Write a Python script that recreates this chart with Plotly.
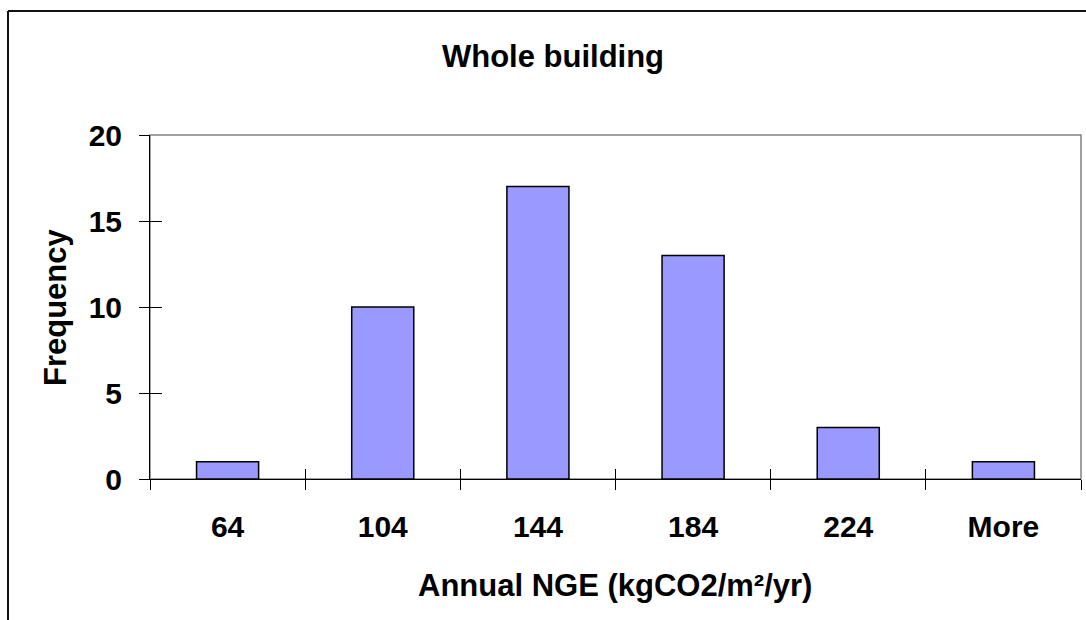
import plotly.graph_objects as go

# Histogram bins and counts
bins = ["64", "104", "144", "184", "224", "More"]
frequency = [1, 10, 17, 13, 3, 1]

title_text = "Whole building"
x_title = "Annual NGE (kgCO2/m²/yr)"
y_title = "Frequency"

FONT = "Liberation Sans, Arial, sans-serif"
TICK_SIZE = 30
TITLE_SIZE = 31
W, H = 1086, 620
L, R, T, B = 150, 5, 135, 141
plot_w = W - L - R
plot_h = H - T - B


def px_to_paper_x(px):
    return (px - L) / plot_w


def px_to_paper_y(py):
    return (H - B - py) / plot_h


fig = go.Figure()
fig.add_trace(go.Bar(
    x=bins,
    y=frequency,
    width=0.4,
    marker=dict(color="#9999FF", line=dict(color="#000000", width=1.5)),
    showlegend=False,
))

fig.update_layout(
    width=W,
    height=H,
    margin=dict(l=L, r=R, t=T, b=B),
    paper_bgcolor="white",
    plot_bgcolor="white",
    font=dict(family=FONT, size=TICK_SIZE, color="black", weight="bold"),
    title=dict(
        text=title_text,
        font=dict(family=FONT, size=TITLE_SIZE, color="black", weight="bold"),
        xref="container", x=553 / W, xanchor="center",
        yref="container", y=1 - 56 / H, yanchor="middle",
    ),
    xaxis=dict(
        type="category",
        tickson="boundaries",
        ticks="outside", ticklen=10, tickwidth=1, tickcolor="black",
        ticklabelstandoff=21,
        showline=True, linecolor="black", linewidth=1,
        showgrid=False, zeroline=False,
        tickfont=dict(family=FONT, size=TICK_SIZE, color="black", weight="bold"),
    ),
    yaxis=dict(
        range=[0, 20],
        tick0=0, dtick=5,
        ticks="outside", ticklen=10, tickwidth=1, tickcolor="black",
        ticklabelstandoff=11,
        showline=True, linecolor="black", linewidth=1,
        showgrid=False, zeroline=False,
        tickfont=dict(family=FONT, size=TICK_SIZE, color="black", weight="bold"),
    ),
    # overlay axes supply the inward half of the crossing tick marks
    xaxis2=dict(
        overlaying="x", anchor="y", side="bottom",
        range=[-0.5, len(bins) - 0.5],
        tickvals=[i - 0.5 for i in range(len(bins) + 1)],
        ticks="inside", ticklen=10, tickwidth=1, tickcolor="black",
        showticklabels=False, showgrid=False, zeroline=False, showline=False,
    ),
    yaxis2=dict(
        overlaying="y", anchor="x", side="left",
        range=[0, 20], tick0=0, dtick=5,
        ticks="inside", ticklen=12, tickwidth=1, tickcolor="black",
        showticklabels=False, showgrid=False, zeroline=False, showline=False,
    ),
    shapes=[
        # plot-area frame (grey top and right edges)
        dict(type="rect", xref="paper", yref="paper", x0=0, y0=0, x1=1, y1=1,
             line=dict(color="#808080", width=1.5), layer="below"),
        # outer chart border
        dict(type="line", xref="paper", yref="paper",
             x0=px_to_paper_x(8), x1=px_to_paper_x(8),
             y0=px_to_paper_y(630), y1=px_to_paper_y(11),
             line=dict(color="#111111", width=2)),
        dict(type="line", xref="paper", yref="paper",
             x0=px_to_paper_x(8), x1=px_to_paper_x(1095),
             y0=px_to_paper_y(11), y1=px_to_paper_y(11),
             line=dict(color="#111111", width=2)),
    ],
    annotations=[
        dict(text=x_title, xref="paper", yref="paper",
             x=px_to_paper_x(615), y=px_to_paper_y(585),
             xanchor="center", yanchor="middle", showarrow=False,
             font=dict(family=FONT, size=TITLE_SIZE, color="black", weight="bold")),
        dict(text=y_title, xref="paper", yref="paper",
             x=px_to_paper_x(55), y=px_to_paper_y(307),
             xanchor="center", yanchor="middle", textangle=-90, showarrow=False,
             font=dict(family=FONT, size=TITLE_SIZE, color="black", weight="bold")),
    ],
)

# invisible point so the overlay axes are drawn
fig.add_trace(go.Scatter(x=[0], y=[0], xaxis="x2", yaxis="y2",
                         mode="markers", marker=dict(opacity=0),
                         hoverinfo="skip", showlegend=False))

fig.write_html("out.html")
